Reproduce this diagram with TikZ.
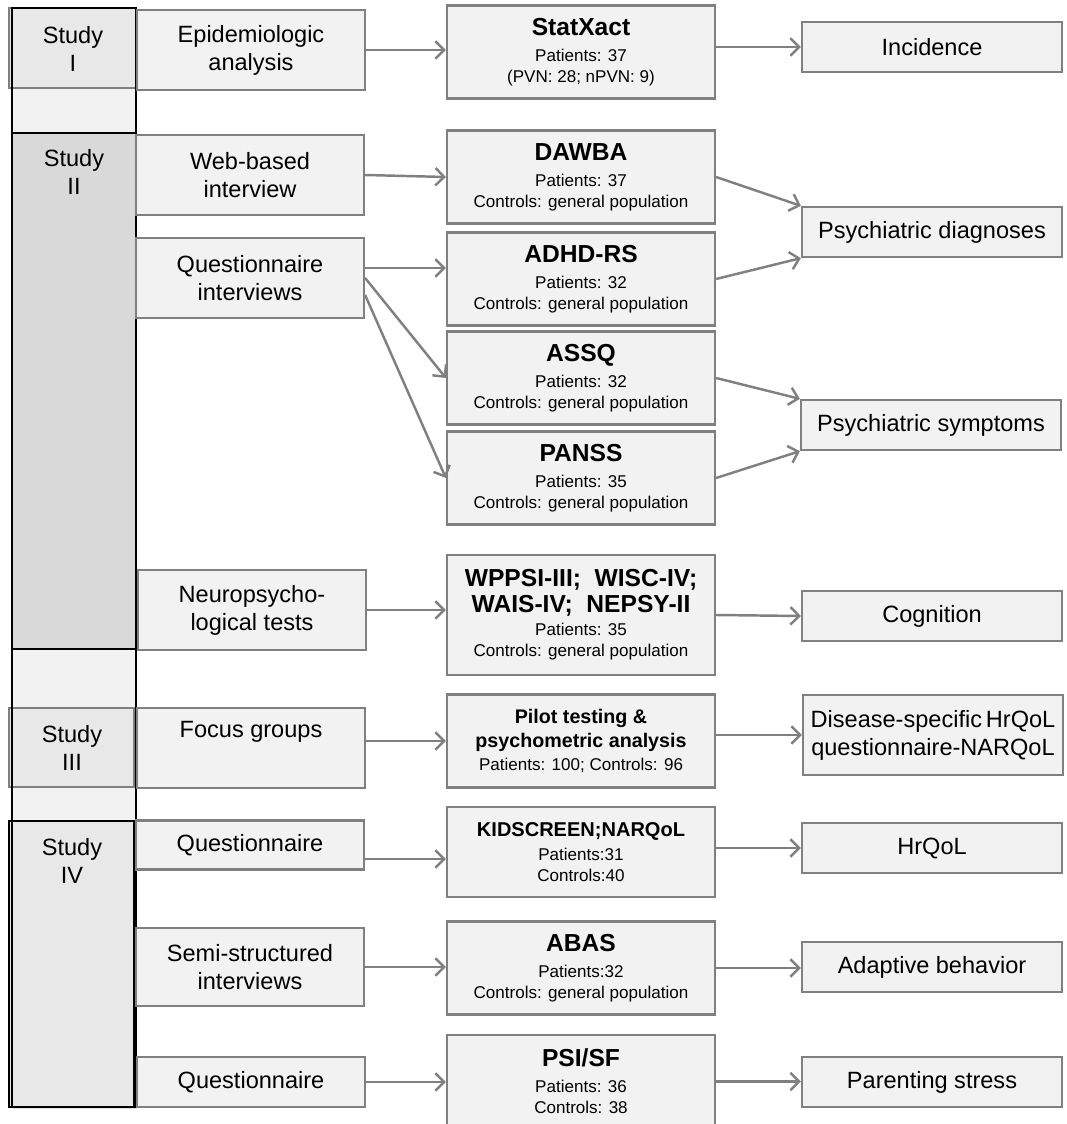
\documentclass[tikz,border=0pt]{standalone}
\usepackage{fontspec}
\setmainfont{Liberation Sans}
\usepackage{tikz}
\usetikzlibrary{positioning, arrows.meta, shadows}
\definecolor{boxfill}{HTML}{F2F2F2}
\definecolor{boxline}{HTML}{808080}
\definecolor{studyfill}{HTML}{E8E8E8}
\definecolor{studydark}{HTML}{D9D9D9}
\definecolor{flowgray}{HTML}{808080}

\tikzset{
  basebox/.style={draw=boxline, fill=boxfill, line width=1.3pt, align=center, inner sep=1pt,
    drop shadow={shadow xshift=0.8pt, shadow yshift=-0.8pt, opacity=0.25}},
  methodbox/.style={basebox, minimum width=4.56cm, minimum height=1.6cm, font=\fontsize{13.4}{16}\selectfont},
  toolbox/.style={basebox, minimum width=5.36cm, minimum height=1.86cm, font=\fontsize{9.7}{12}\selectfont},
  outbox/.style={basebox, minimum width=5.2cm, minimum height=1cm, font=\fontsize{13.4}{16}\selectfont},
  studybox/.style={draw=boxline, fill=studyfill, line width=1.2pt, inner sep=0pt},
  studytext/.style={align=center, font=\fontsize{13.4}{16}\selectfont},
  flow/.style={draw=flowgray, line width=1.4pt, -{Straight Barb[length=5pt, width=10pt, line width=1.4pt]}},
}

\begin{document}
\begin{tikzpicture}[x=0.02cm, y=-0.02cm]
    \useasboundingbox (0,0) rectangle (1066,1124);

    % Study column
    \fill[boxfill, drop shadow={shadow xshift=0.8pt, shadow yshift=-1.2pt, opacity=0.25}] (12,8) rectangle (136,1107);
    \node[studybox, minimum width=2.54cm, minimum height=1.6cm] (s1) at (72.5,48) {};
    \node[studybox, fill=studydark, draw=black, minimum width=2.48cm, minimum height=10.32cm] (s2) at (74,391) {};
    \node[studybox, minimum width=2.5cm, minimum height=1.58cm] (s3) at (71.5,747.5) {};
    \node[studybox, draw=black, minimum width=2.5cm, minimum height=5.72cm] (s4) at (71.5,964) {};
    \draw[black, line width=1.3pt] (12,8) rectangle (136,1107);
    \node[studytext] (s1txt) at (73,49) {Study\\I};
    \node[studytext] (s2txt) at (74,172) {Study\\II};
    \node[studytext] (s3txt) at (72,748) {Study\\III};
    \node[studytext] (s4txt) at (72,861) {Study\\IV};

    % Methods
    \node[methodbox] (epi) at (251,50) {Epidemiologic\\analysis};
    \node[methodbox] (web) at (250,175) {Web-based\\interview};
    \node[methodbox] (qint) at (250,278) {Questionnaire\\interviews};
    \node[methodbox] (neuro) at (252,610) {Neuropsycho-\\logical tests};
    \node[methodbox] (focus) at (251,748) {Focus groups\\\strut};
    \node[methodbox, minimum height=0.98cm] (q4) at (250,845) {Questionnaire};
    \node[methodbox, minimum height=1.56cm] (semi) at (250,967) {Semi-structured\\interviews};
    \node[methodbox, minimum height=1cm] (q5) at (251,1082) {Questionnaire};

    % Instruments
    \node[toolbox] (statx) at (581,52) {{\fontsize{14}{15}\selectfont\bfseries StatXact}\\[2.8pt]Patients: 37\\(PVN: 28; nPVN: 9)};
    \node[toolbox] (dawba) at (581,177) {{\fontsize{14}{15}\selectfont\bfseries DAWBA}\\[2.8pt]Patients: 37\\Controls: general population};
    \node[toolbox] (adhd) at (581,279) {{\fontsize{14}{15}\selectfont\bfseries ADHD-RS}\\[2.8pt]Patients: 32\\Controls: general population};
    \node[toolbox] (assq) at (581,378) {{\fontsize{14}{15}\selectfont\bfseries ASSQ}\\[2.8pt]Patients: 32\\Controls: general population};
    \node[toolbox] (panss) at (581,478) {{\fontsize{14}{15}\selectfont\bfseries PANSS}\\[2.8pt]Patients: 35\\Controls: general population};
    \node[toolbox, minimum height=2.4cm] (wppsi) at (581,615) {{\fontsize{14}{13}\selectfont\bfseries WPPSI-III;\ \ WISC-IV;}\\[2.5pt]{\fontsize{14}{13}\selectfont\bfseries WAIS-IV;\ \ NEPSY-II}\\[1.5pt]Patients: 35\\Controls: general population};
    \node[toolbox] (pilot) at (581,741) {{\fontsize{11.2}{13}\selectfont\bfseries Pilot testing \&}\\[1.5pt]{\fontsize{11.2}{13}\selectfont\bfseries psychometric analysis}\\[1pt]Patients: 100; Controls: 96};
    \node[toolbox, minimum height=1.8cm] (kid) at (581,852) {{\fontsize{11.4}{13}\selectfont\bfseries KIDSCREEN;NARQoL}\\[2pt]Patients:31\\Controls:40};
    \node[toolbox] (abas) at (581,968) {{\fontsize{14}{15}\selectfont\bfseries ABAS}\\[2.8pt]Patients:32\\Controls: general population};
    \node[toolbox] (psi) at (581,1081.5) {{\fontsize{14}{15}\selectfont\bfseries PSI/SF}\\[2.8pt]Patients: 36\\Controls: 38};

    % Outcomes
    \node[outbox] (inc) at (932,47) {Incidence};
    \node[outbox] (diag) at (932,232) {Psychiatric diagnoses};
    \node[outbox] (symp) at (931,425) {Psychiatric symptoms};
    \node[outbox] (cog) at (932,616) {Cognition};
    \node[outbox, minimum height=1.6cm, inner xsep=0pt] (dis) at (933,735) {Disease-specific\,HrQoL\\questionnaire-NARQoL};
    \node[outbox] (hrq) at (932,848) {HrQoL};
    \node[outbox] (adapt) at (932,967) {Adaptive behavior};
    \node[outbox] (par) at (932,1082) {Parenting stress};

    % Arrows
    \draw[flow] (epi.east) -- (epi.east -| statx.west);
    \draw[flow] (statx.east |- inc.west) -- (inc.west);

    \draw[flow] (web.east) -- (dawba.west);
    \coordinate (qa) at ([yshift=0.2cm]qint.east);
    \draw[flow] (qa) -- (qa -| adhd.west);
    \draw[flow] (qint.east) -- (assq.west);
    \draw[flow] ([yshift=-0.34cm]qint.east) -- (panss.west);
    \draw[flow] (dawba.east) -- (diag.north west);
    \draw[flow] (adhd.east) -- (diag.south west);
    \draw[flow] (assq.east) -- (symp.north west);
    \draw[flow] (panss.east) -- (symp.south west);

    \draw[flow] (neuro.east) -- (neuro.east -| wppsi.west);
    \draw[flow] (wppsi.east) -- (cog.west);

    \draw[flow] (focus.east |- pilot.west) -- (pilot.west);
    \draw[flow] (pilot.east |- dis.west) -- (dis.west);

    \coordinate (q4a) at ([yshift=-0.28cm]q4.east);
    \draw[flow] (q4a) -- (q4a -| kid.west);
    \draw[flow] (kid.east |- hrq.west) -- (hrq.west);
    \draw[flow] (semi.east) -- (semi.east -| abas.west);
    \draw[flow] (abas.east) -- (abas.east -| adapt.west);
    \draw[flow] (q5.east) -- (q5.east -| psi.west);
    \draw[flow] (psi.east) -- (psi.east -| par.west);

\end{tikzpicture}
\end{document}
